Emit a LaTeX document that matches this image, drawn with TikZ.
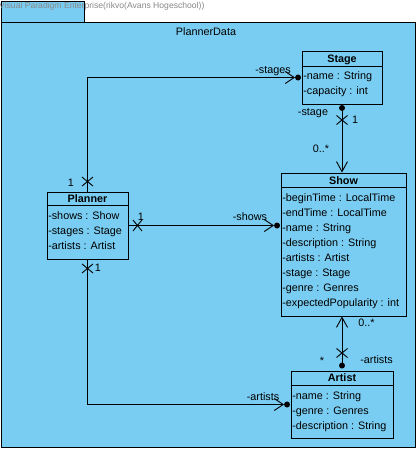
\documentclass[tikz,border=0pt]{standalone}
\usepackage{fontspec}
\setmainfont{Liberation Sans}
\usepackage{xcolor}
\usepackage{tikz}
\usetikzlibrary{arrows.meta,positioning}
\definecolor{pkgblue}{RGB}{122,205,242}
\definecolor{markgray}{RGB}{135,135,135}
\tikzset{
  pkgframe/.style={draw, line width=0.9pt, fill=pkgblue, inner sep=0pt},
  classbox/.style={draw, line width=0.9pt, inner sep=0pt},
  classname/.style={font=\fontsize{10.8}{12}\selectfont\bfseries, inner sep=0pt, text height=7.8pt, text depth=0pt},
  attr/.style={anchor=west, font=\fontsize{10.8}{12}\selectfont, inner sep=0pt, text height=7.8pt, text depth=0pt},
  role/.style={font=\fontsize{10.8}{12}\selectfont, inner sep=0pt, text height=7.8pt, text depth=0pt},
  assoc/.style={line width=0.9pt},
  navend/.style={assoc, -{Straight Barb[length=9pt,width=12pt,line width=0.9pt]}, shorten >=3pt},
  nonnav/.pic={
    \draw[line width=0.9pt] (-4.5,-5.5) -- (4.5,5.5) (-4.5,5.5) -- (4.5,-5.5);
  },
}
\begin{document}
\begin{tikzpicture}[x=1pt,y=-1pt]
                \useasboundingbox (0,0) rectangle (419,452);
                \node[pkgframe, minimum width=83pt, minimum height=21pt] (tab) at (42.5,11.5) {};
                \node[pkgframe, minimum width=414pt, minimum height=425pt] (pkg) at (208,234.5) {};
                \node[anchor=west, inner sep=0pt, text=markgray, font=\fontsize{8.6}{9}\selectfont] (vp) at (-1,6) {Visual Paradigm Enterprise(rikvo(Avans Hogeschool))};
                \node[role] (pkgname) at (206,31.5) {PlannerData};
                \node[classbox, minimum width=80pt, minimum height=53pt] (stage) at (342,77.5) {};
                \draw[assoc] ([yshift=-16pt]stage.north west) -- ([yshift=-16pt]stage.north east);
                \node[classname] (stagename) at ([yshift=-8pt]stage.north) {Stage};
                \node[attr] (stagea1) at ([xshift=1.5pt,yshift=-25pt]stage.north west) {-name : String};
                \node[attr] (stagea2) at ([yshift=-15pt]stagea1.west) {-capacity : int};
                \node[classbox, minimum width=125pt, minimum height=143pt] (show) at (343.5,244.5) {};
                \draw[assoc] ([yshift=-15pt]show.north west) -- ([yshift=-15pt]show.north east);
                \node[classname] (showname) at ([yshift=-8pt]show.north) {Show};
                \node[attr] (showa1) at ([xshift=1.5pt,yshift=-25pt]show.north west) {-beginTime : LocalTime};
                \node[attr] (showa2) at ([yshift=-15pt]showa1.west) {-endTime : LocalTime};
                \node[attr] (showa3) at ([yshift=-15pt]showa2.west) {-name : String};
                \node[attr] (showa4) at ([yshift=-15pt]showa3.west) {-description : String};
                \node[attr] (showa5) at ([yshift=-15pt]showa4.west) {-artists : Artist};
                \node[attr] (showa6) at ([yshift=-15pt]showa5.west) {-stage : Stage};
                \node[attr] (showa7) at ([yshift=-15pt]showa6.west) {-genre : Genres};
                \node[attr] (showa8) at ([yshift=-15pt]showa7.west) {-expectedPopularity : int};
                \node[classbox, minimum width=81pt, minimum height=67pt] (planner) at (87.5,225.5) {};
                \draw[assoc] ([yshift=-14pt]planner.north west) -- ([yshift=-14pt]planner.north east);
                \node[classname] (plannername) at ([yshift=-7.5pt]planner.north) {Planner};
                \node[attr] (plannera1) at ([xshift=1.5pt,yshift=-24pt]planner.north west) {-shows : Show};
                \node[attr] (plannera2) at ([yshift=-15pt]plannera1.west) {-stages : Stage};
                \node[attr] (plannera3) at ([yshift=-15pt]plannera2.west) {-artists : Artist};
                \node[classbox, minimum width=102pt, minimum height=67pt] (artist) at (342,404.5) {};
                \draw[assoc] ([yshift=-15pt]artist.north west) -- ([yshift=-15pt]artist.north east);
                \node[classname] (artistname) at ([yshift=-7.5pt]artist.north) {Artist};
                \node[attr] (artista1) at ([xshift=1.5pt,yshift=-25pt]artist.north west) {-name : String};
                \node[attr] (artista2) at ([yshift=-15pt]artista1.west) {-genre : Genres};
                \node[attr] (artista3) at ([yshift=-15pt]artista2.west) {-description : String};
                \coordinate[xshift=-3.5pt] (stagedot) at (stage.west);
                \draw[navend] (planner.north) |- (stagedot);
                \fill (stagedot) circle (3pt);
                \pic[rotate=90] at ([yshift=10pt]planner.north) {nonnav};
                \node[role] (plstagemult) at (71,183) {1};
                \node[role] (plstagerole) at (273,70) {-stages};
                \coordinate[xshift=-3.5pt] (showdot) at (planner.east -| show.west);
                \draw[navend] (planner.east) -- (showdot);
                \fill (showdot) circle (3pt);
                \pic at ([xshift=9pt]planner.east) {nonnav};
                \node[role] (plshowmult) at (141,217) {1};
                \node[role] (plshowrole) at (250,217) {-shows};
                \coordinate[xshift=-3.5pt] (artistdot) at (artist.west);
                \draw[navend] (planner.south) |- (artistdot);
                \fill (artistdot) circle (3pt);
                \pic[rotate=90] at ([yshift=-9pt]planner.south) {nonnav};
                \node[role] (plartistmult) at (98,268) {1};
                \node[role] (plartistrole) at (263,397) {-artists};
                \coordinate[yshift=-3.5pt] (stagedot2) at (stage.south);
                \draw[assoc, -{Straight Barb[length=10pt,width=11pt,line width=0.9pt]}] (stagedot2) -- (stagedot2 |- show.north);
                \fill (stagedot2) circle (3pt);
                \pic[rotate=90] at (342,120) {nonnav};
                \node[role] (stshowrole) at (313,112) {-stage};
                \node[role] (stshowmult) at (355,120) {1};
                \node[role] (stshowmany) at (321,149) {0..*};
                \coordinate[yshift=5pt] (artistdot2) at (artist.north);
                \draw[assoc, -{Straight Barb[length=10pt,width=11pt,line width=0.9pt]}] (artistdot2) -- (artistdot2 |- show.south);
                \fill (artistdot2) circle (3pt);
                \pic[rotate=90] at (342,353) {nonnav};
                \node[role] (arshowmany) at (366.5,323) {0..*};
                \node[role] (arshowstar) at (322,361) {*};
                \node[role] (arshowrole) at (376.5,360) {-artists};
\end{tikzpicture}
\end{document}
